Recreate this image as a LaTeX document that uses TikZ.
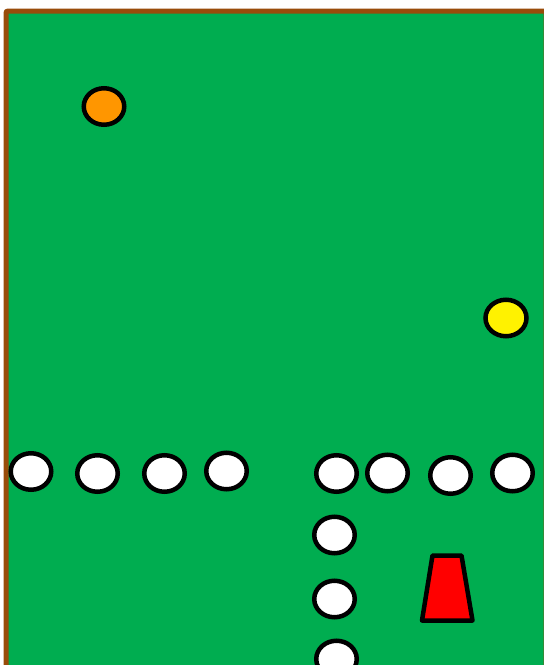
\documentclass[tikz,border=0pt]{standalone}
\usetikzlibrary{shapes.geometric}
\definecolor{field}{RGB}{0,173,80}
\definecolor{edge}{RGB}{153,76,10}
\definecolor{ballor}{RGB}{255,150,0}
\begin{document}
\begin{tikzpicture}[x=1pt,y=-1pt,
  disc/.style={ellipse,draw=black,line width=4.5pt,inner sep=0pt,minimum width=40.5pt,minimum height=36.5pt,fill=white}]
\useasboundingbox (0,0) rectangle (544,665);
\clip (0,0) rectangle (544,665);
\fill[white] (0,0) rectangle (544,665);
\draw[edge,line width=5pt,fill=field,rounded corners=2pt] (6,11) rectangle (546,700);
\node[disc,fill=ballor] (orange) at (104,106.5) {};
\node[disc,fill=yellow,minimum width=41pt] (yellowball) at (506,318) {};
\node[disc] (w1) at (31,471.5) {};
\node[disc] (w2) at (97.5,473.5) {};
\node[disc] (w3) at (164.5,473.5) {};
\node[disc] (w4) at (226.5,471) {};
\node[disc] (w5) at (336.5,473.5) {};
\node[disc] (w6) at (387.5,473) {};
\node[disc] (w7) at (450.5,475.5) {};
\node[disc] (w8) at (512.5,473) {};
\node[disc] (w9) at (334.5,535) {};
\node[disc] (w10) at (334.5,599) {};
\node[disc] (w11) at (336.5,659) {};
\draw[black,line width=4.5pt,line join=round,fill=red] (432.5,555.5) -- (461.5,555.5) -- (472.5,620.5) -- (422,620.5) -- cycle;
\end{tikzpicture}
\end{document}
